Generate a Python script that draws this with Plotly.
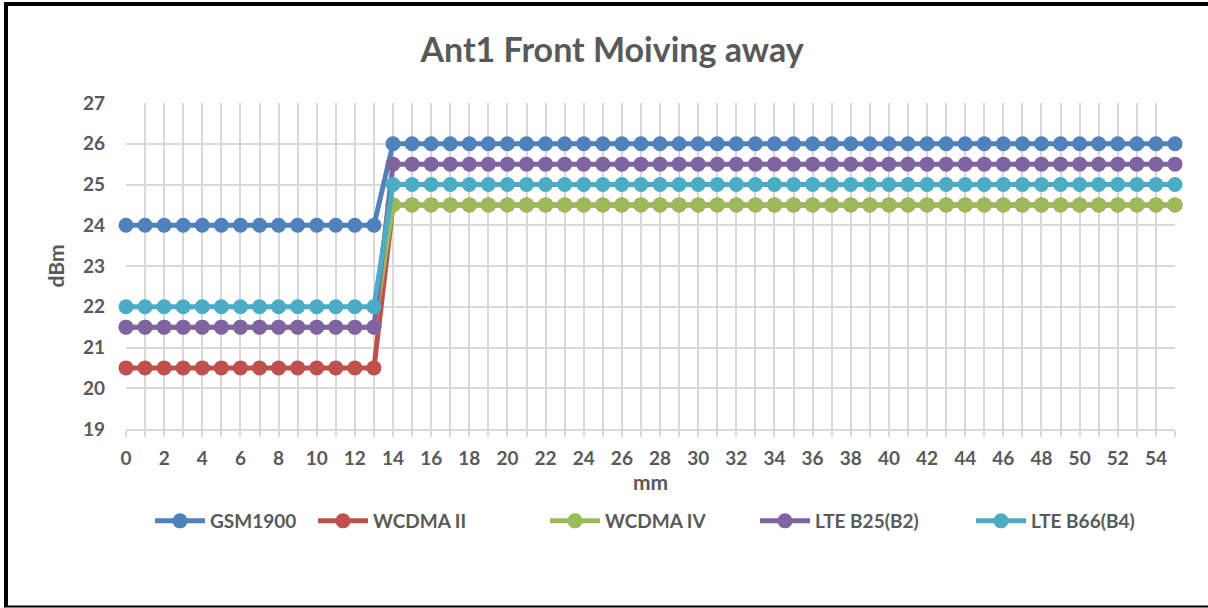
import plotly.graph_objects as go

mm = list(range(0, 56))
gsm1900 = [24.0] * 14 + [26.0] * 42
wcdma_ii = [20.5] * 14 + [24.5] * 42
wcdma_iv = [21.5] * 14 + [24.5] * 42
lte_b25 = [21.5] * 14 + [25.5] * 42
lte_b66 = [22.0] * 14 + [25.0] * 42

series_names = ["GSM1900", "WCDMA II", "WCDMA IV", "LTE B25(B2)", "LTE B66(B4)"]
series_values = [gsm1900, wcdma_ii, wcdma_iv, lte_b25, lte_b66]
colors = ["#4F81BD", "#C0504D", "#9BBB59", "#8064A2", "#4BACC6"]
legend_left_px = [150, 313, 545, 755, 971]

W, H = 1208, 608
L, R, T, B = 126, 33, 103, 179
PW, PH = W - L - R, H - T - B

def px(x):
    return (x - L) / PW

def py(y):
    return (H - B - y) / PH

FONT = "Lato"
GRAY = "#595959"

fig = go.Figure()
legend_layouts = {}
for i, (name, vals, c) in enumerate(zip(series_names, series_values, colors)):
    lg = "legend" if i == 0 else f"legend{i + 1}"
    fig.add_trace(go.Scatter(
        x=mm, y=vals, name=name, mode="lines+markers",
        line=dict(color=c, width=5),
        marker=dict(color=c, size=15),
        cliponaxis=False, legend=lg,
    ))
    legend_layouts[lg] = dict(
        orientation="h", x=px(legend_left_px[i]), xanchor="left", y=py(521), yanchor="middle",
        font=dict(family=FONT, size=19, color=GRAY, weight="bold"),
        bgcolor="rgba(0,0,0,0)", itemwidth=50,
    )

fig.update_layout(
    width=W, height=H,
    margin=dict(l=L, r=R, t=T, b=B, autoexpand=False),
    paper_bgcolor="white", plot_bgcolor="white",
    title=dict(text="<b>Ant1 Front Moiving away</b>", x=612 / W, xanchor="center",
               y=1 - 50 / H, yanchor="middle", font=dict(family=FONT, size=34, color=GRAY)),
    font=dict(family=FONT, color=GRAY),
    showlegend=True,
    xaxis=dict(
        range=[0, 55], dtick=2, tick0=0, showgrid=True, gridcolor="#D9D9D9", gridwidth=1.5,
        zeroline=False, showline=True, linecolor="#D9D9D9", linewidth=1.5,
        ticks="outside", ticklen=6, tickcolor="#D9D9D9", tickwidth=1.5,
        minor=dict(dtick=1, showgrid=True, gridcolor="#D9D9D9", gridwidth=1.5,
                   ticks="outside", ticklen=6, tickcolor="#D9D9D9"),
        tickfont=dict(family=FONT, size=19, color=GRAY, weight="bold"),
        ticklabelstandoff=5,
        title=dict(text="<b>mm</b>", font=dict(family=FONT, size=21, color=GRAY), standoff=0),
    ),
    yaxis=dict(
        range=[19, 27], dtick=1, showgrid=True, gridcolor="#D9D9D9", gridwidth=1.5,
        zeroline=False, showline=False,
        tickfont=dict(family=FONT, size=19, color=GRAY, weight="bold"),
        ticklabelstandoff=20,
        title=dict(text="<b>dBm</b>", font=dict(family=FONT, size=21, color=GRAY), standoff=12),
    ),
    shapes=[
        dict(type="line", xref="paper", yref="paper", x0=px(4), x1=px(1208), y0=py(4), y1=py(4),
             line=dict(color="black", width=4)),
        dict(type="line", xref="paper", yref="paper", x0=px(6), x1=px(6), y0=py(2), y1=py(607),
             line=dict(color="black", width=4)),
        dict(type="line", xref="paper", yref="paper", x0=px(4), x1=px(1208), y0=py(606.5), y1=py(606.5),
             line=dict(color="black", width=2)),
    ],
    **legend_layouts,
)

fig.write_html("out.html", config={"displayModeBar": False},
               post_script="document.body.style.margin='0';document.body.style.overflow='hidden';")
